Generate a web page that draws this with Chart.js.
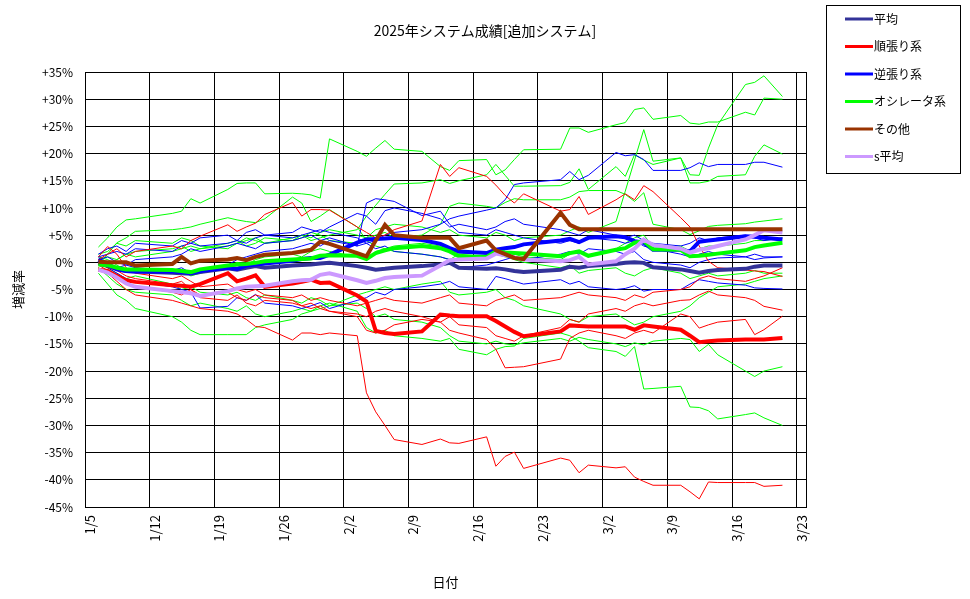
<!DOCTYPE html>
<html lang="ja">
<head>
<meta charset="utf-8">
<title>2025年システム成績[追加システム]</title>
<script src="https://cdn.jsdelivr.net/npm/chart.js@4.4.1/dist/chart.umd.min.js"></script>
<style>
  html, body { margin: 0; padding: 0; background: #fff; }
  #wrap { width: 970px; height: 599px; }
</style>
</head>
<body>
<div id="wrap"><canvas id="chart" width="970" height="599"></canvas></div>
<script>
// trading days (2025)
const dates = [
  '1/6','1/7','1/8','1/9','1/10',
  '1/14','1/15','1/16','1/17',
  '1/20','1/21','1/22','1/23','1/24',
  '1/27','1/28','1/29','1/30','1/31',
  '2/3','2/4','2/5','2/6','2/7',
  '2/10','2/12','2/13','2/14',
  '2/17','2/18','2/19','2/20','2/21',
  '2/25','2/26','2/27','2/28',
  '3/3','3/4','3/5','3/6','3/7',
  '3/10','3/11','3/12','3/13','3/14',
  '3/17','3/18','3/19','3/21'
];

// summary series (%)
const heikin = [
  -0.1,-0.6,-1.2,-1.6,-1.7, -1.9,-2.0,-2.1,-1.8, -1.1,-1.35,-1.0,-0.7,-1.0,
  -0.6,-0.5,-0.4,-0.2,-0.1, -0.7,-1.0,-1.35,-1.2,-1.0, -0.7,-0.4,-0.1,-1.0,
  -1.2,-1.1,-1.3,-1.6,-1.8, -1.35,-0.8,-1.0,-0.7, -0.3,-0.1,0.0,-0.1,-0.9,
  -1.3,-1.6,-1.9,-1.6,-1.4, -1.2,-0.8,-0.6,-0.6
];
const junbari = [
  -1.35,-1.6,-2.5,-3.3,-3.6, -4.2,-4.3,-4.5,-4.0, -2.0,-3.5,-3.0,-2.4,-4.5,
  -3.9,-3.6,-3.2,-3.8,-3.7, -6.1,-7.2,-12.6,-13.0,-13.2, -12.7,-9.6,-9.8,-9.9,
  -9.9,-10.8,-11.8,-12.8,-13.6, -12.7,-11.6,-11.7,-11.8, -11.8,-11.8,-12.4,-11.6,-11.8,
  -12.4,-13.5,-14.7,-14.5,-14.4, -14.2,-14.2,-14.2,-13.9
];
const gyakubari = [
  0.4,-0.4,-1.3,-1.6,-1.7, -1.7,-1.8,-2.0,-1.6, -1.0,-1.2,-0.6,-0.4,-0.2,
  0.3,0.6,0.8,0.8,1.4, 3.6,4.2,4.3,4.4,4.5, 4.1,3.4,2.6,2.0,
  1.7,2.3,2.6,2.8,3.3, 4.0,4.3,3.7,4.5, 4.8,4.6,3.9,3.6,2.3,
  2.3,2.0,3.8,4.0,4.2, 4.8,4.7,4.5,4.2
];
const oscillator = [
  -0.4,-0.5,-1.0,-1.3,-1.3, -1.4,-1.6,-1.8,-1.3, -0.6,-0.4,-0.3,-0.1,0.2,
  0.5,0.6,0.7,1.2,1.3, 1.2,0.6,1.7,2.2,2.6, 3.0,2.6,2.0,1.1,
  1.0,2.0,1.8,1.7,1.6, 1.1,1.7,2.0,1.2, 2.3,2.6,3.6,3.9,2.4,
  2.3,1.1,1.2,1.4,1.6, 2.2,2.8,3.1,3.6
];
const sonota = [
  0.1,0.0,0.0,0.0,-0.6, -0.3,1.0,-0.2,0.3, 0.5,0.8,0.4,1.0,1.4,
  1.7,2.0,2.3,3.8,3.4, 1.7,1.1,4.0,6.9,5.0, 4.5,4.5,4.5,2.6,
  4.0,2.2,1.5,0.8,0.6, 9.1,6.9,6.1,6.1, 6.1,6.1,6.1,6.1,6.1,
  6.1,6.1,6.1,6.1,6.1, 6.1,6.1,6.1,6.1
];
const sHeikin = [
  -1.35,-1.9,-2.8,-3.9,-4.5, -5.3,-5.5,-5.7,-6.2, -5.3,-4.8,-4.5,-4.4,-4.3,
  -3.5,-3.3,-3.2,-2.3,-2.0, -3.3,-3.8,-3.4,-2.9,-2.7, -2.45,-0.6,0.4,0.5,
  0.7,1.6,1.3,0.9,0.5, 0.2,0.4,1.0,-0.4, 0.2,1.5,2.5,4.2,3.2,
  2.5,1.8,2.3,2.6,3.0, 4.2,5.0,5.9,5.5
];

// individual systems: 順張り (red)
const jun1 = [
  -1.0,-2.0,-3.5,-5.0,-6.0, -7.0,-7.5,-8.0,-8.5, -9.0,-9.5,-10.5,-11.8,-12.0,
  -14.3,-13.0,-13.0,-13.3,-13.0, -13.5,-24.0,-27.5,-30.0,-32.6, -33.5,-32.5,-33.2,-33.3,
  -32.1,-37.5,-35.7,-34.9,-37.9, -36.0,-36.4,-38.7,-37.3, -37.8,-37.6,-39.5,-40.3,-41.0,
  -41.0,-42.2,-43.5,-40.4,-40.5, -40.5,-40.5,-41.2,-41.0
];
const jun2 = [
  0.5,1.5,2.5,1.0,2.0, 3.0,2.5,4.0,4.8, 6.9,5.7,6.5,7.2,8.8,
  11.0,8.5,9.7,9.7,9.6, 6.5,5.5,4.5,5.0,6.0, 7.6,18.0,15.8,17.4,
  15.8,14.2,12.3,10.9,12.6, 9.4,9.7,12.1,8.8, 11.5,12.6,11.5,14.1,13.0,
  8.2,6.5,3.0,0.2,-1.0, -1.4,-1.6,-1.7,-2.6
];
const jun3 = [
  -0.5,-1.5,-3.0,-4.0,-4.5, -5.5,-6.0,-5.0,-6.5, -7.0,-6.0,-7.5,-8.0,-7.0,
  -7.5,-8.0,-8.5,-8.0,-9.0, -10.0,-12.5,-13.0,-12.5,-11.5, -10.5,-11.0,-10.0,-11.5,
  -12.0,-13.5,-14.0,-14.5,-13.5, -12.0,-10.5,-11.0,-9.5, -8.5,-9.0,-8.0,-7.5,-8.0,
  -7.0,-6.9,-6.0,-5.3,-6.0, -6.5,-7.0,-8.1,-8.8
];
const jun4 = [
  0.0,-1.0,-1.5,-2.5,-3.0, -4.0,-3.5,-5.0,-6.0, -5.5,-6.5,-7.0,-6.0,-6.5,
  -7.0,-8.0,-7.5,-8.5,-9.0, -9.5,-10.0,-9.0,-8.5,-9.0, -10.0,-11.0,-12.5,-13.0,
  -14.2,-16.0,-19.4,-19.3,-19.2, -17.8,-14.0,-13.0,-12.5, -13.5,-14.0,-13.0,-12.5,-13.0,
  -9.5,-10.0,-12.1,-11.5,-11.0, -10.5,-13.3,-12.4,-9.9
];
const jun5 = [
  1.0,2.9,1.5,-1.0,-2.0, -3.0,-2.5,-3.5,-4.5, -4.0,-5.0,-5.5,-5.0,-6.0,
  -6.5,-6.0,-7.0,-6.5,-7.0, -8.0,-7.5,-7.0,-6.5,-7.0, -7.5,-6.5,-6.0,-7.5,
  -8.0,-7.0,-6.5,-6.0,-7.0, -6.5,-6.0,-5.5,-6.0, -6.5,-7.0,-6.0,-6.5,-5.5,
  -5.0,-4.5,-3.0,-2.5,-3.0, -3.5,-3.0,-2.5,-1.0
];

// 逆張り (blue)
const gyaku1 = [
  1.0,1.5,2.0,1.5,2.5, 2.0,3.0,3.5,3.0, 3.5,4.0,3.5,4.5,5.0,
  4.5,5.0,5.5,6.0,5.5, 4.5,3.5,4.0,5.0,5.5, 6.0,7.0,8.0,8.5,
  9.6,10.0,11.5,14.3,14.6, 15.2,16.7,15.2,16.0, 20.2,19.6,19.8,18.9,16.9,
  16.9,17.4,18.3,17.6,18.0, 18.0,18.4,18.4,17.5
];
const gyaku2 = [
  0.5,1.0,0.0,-0.5,0.5, 1.0,1.5,2.5,2.0, 3.0,3.5,3.0,2.5,3.5,
  4.0,4.5,5.0,4.0,4.5, 3.0,10.9,11.7,11.5,11.2, 8.6,9.4,7.0,5.5,
  5.0,6.0,5.5,5.0,4.5, 3.5,4.0,3.5,4.5, 4.0,3.5,4.0,3.0,2.5,
  1.5,1.0,1.5,2.0,1.5, 1.0,1.5,1.0,1.0
];
const gyaku3 = [
  0.0,-1.0,-2.0,-3.0,-3.5, -4.5,-5.0,-5.5,-8.4, -8.1,-6.5,-7.0,-5.9,-7.5,
  -8.0,-8.5,-8.0,-7.4,-8.5, -7.0,-6.5,-5.5,-6.0,-5.0, -4.5,-4.0,-3.5,-4.5,
  -5.0,-2.6,-3.0,-3.5,-4.0, -3.2,-4.0,-3.5,-4.5, -5.0,-4.8,-4.3,-5.3,-5.0,
  -5.0,-4.0,-3.2,-3.5,-3.8, -4.2,-4.7,-4.8,-4.9
];
const gyaku4 = [
  0.8,0.0,-1.0,-0.5,-1.0, -1.5,-1.0,-2.0,-1.5, -0.5,0.5,1.0,1.5,2.0,
  2.5,3.0,3.5,3.0,4.0, 3.0,3.5,2.5,3.0,2.0, 1.5,1.0,0.5,-1.0,
  -0.5,0.0,0.5,1.0,0.5, 1.5,2.0,1.5,2.5, 2.0,1.5,2.0,0.5,0.0,
  -0.5,-1.0,0.0,0.5,0.8, 1.0,0.5,0.8,1.0
];
const gyaku5 = [
  1.5,2.5,3.0,2.0,3.5, 3.0,4.0,3.5,4.5, 5.0,4.0,5.5,6.0,5.0,
  5.5,6.5,6.0,5.5,6.5, 9.0,8.5,7.0,9.5,10.0, 9.0,8.0,6.5,7.0,
  6.0,6.5,7.5,8.0,7.0, 6.0,5.5,5.0,6.0, 5.0,4.5,5.0,4.0,3.5,
  3.0,3.5,4.5,4.0,4.5, 5.0,4.5,4.0,4.5
];

// オシレータ (green)
const osc1 = [
  2.8,4.5,6.5,7.8,8.0, 9.0,9.4,11.7,10.9, 13.4,14.5,14.6,14.6,12.6,
  12.7,12.6,12.4,11.8,22.7, 20.4,19.5,21.0,22.4,20.8, 20.4,17.6,16.9,18.7,
  18.9,16.1,17.0,18.9,20.7, 20.8,24.7,24.7,23.9, 25.3,25.7,28.1,28.4,26.3,
  27.0,25.6,25.4,25.8,25.8, 27.6,27.1,30.2,30.0
];
const osc2 = [
  0.5,1.0,0.5,1.5,2.0, 2.5,3.0,2.0,2.5, 3.5,4.0,3.0,3.5,4.5,
  4.0,5.0,4.5,5.5,6.0, 5.0,4.5,6.0,6.5,7.0, 6.5,5.5,6.0,5.0,
  4.5,5.5,5.0,4.0,4.5, 5.0,5.8,6.5,5.5, 7.5,13.1,18.8,24.4,18.6,
  19.2,16.1,16.0,21.0,25.3, 32.7,33.1,34.3,30.5
];
const osc3 = [
  0.0,-0.5,0.5,1.5,1.0, 2.0,2.5,3.0,2.5, 3.0,3.5,4.5,4.0,3.5,
  4.5,5.0,4.0,4.5,5.0, 6.0,8.5,10.5,12.5,14.4, 14.6,15.2,14.5,15.0,
  16.1,18.0,16.0,14.0,14.0, 14.1,14.7,17.2,13.4, 17.6,15.8,19.8,18.8,18.0,
  19.2,14.6,14.6,14.9,15.8, 16.1,19.5,21.6,19.9
];
const osc4 = [
  1.5,2.0,3.5,3.0,4.0, 3.5,4.5,4.0,3.0, 2.5,3.5,4.0,4.5,3.5,
  4.0,4.5,5.5,5.0,4.0, 3.5,4.5,5.0,5.5,4.5, 5.0,7.0,10.3,10.9,
  10.3,10.0,11.0,11.7,11.5, 11.5,12.0,13.0,13.2, 13.2,12.5,11.2,12.8,7.0,
  6.0,5.1,5.8,6.6,6.8, 7.1,7.4,7.6,8.0
];
const osc5 = [
  -1.0,-2.5,-4.0,-5.0,-5.5, -6.0,-7.0,-8.0,-7.5, -8.5,-9.0,-8.0,-9.5,-10.0,
  -9.0,-8.5,-9.0,-8.0,-7.5, -9.0,-12.0,-13.0,-12.5,-13.5, -14.0,-14.5,-14.0,-16.0,
  -17.0,-16.0,-15.5,-15.4,-14.0, -13.0,-13.5,-14.5,-15.7, -16.4,-17.3,-15.5,-23.3,-23.2,
  -22.8,-26.6,-26.7,-27.3,-28.8, -28.0,-27.7,-28.6,-30.0
];
const osc6 = [
  -0.5,-1.0,-2.0,-3.0,-2.5, -4.0,-5.0,-4.5,-5.5, -6.0,-5.5,-6.5,-7.0,-6.0,
  -7.0,-7.5,-6.5,-7.0,-8.0, -7.5,-8.5,-10.0,-9.5,-10.5, -11.0,-12.0,-13.5,-14.5,
  -15.0,-14.5,-15.0,-15.2,-14.8, -14.0,-14.5,-13.8,-14.2, -15.0,-15.5,-14.8,-15.2,-14.5,
  -14.0,-14.2,-16.4,-15.1,-17.0, -20.0,-21.0,-20.0,-19.2
];
const osc7 = [
  -0.5,1.5,3.6,4.5,5.7, 6.0,6.2,6.5,7.0, 8.2,7.8,7.5,7.3,8.0,
  12.0,10.9,7.5,8.5,9.7, 6.5,4.0,3.0,2.5,2.0, 1.5,1.0,0.5,1.5,
  2.0,1.5,1.0,0.5,0.0, -1.0,-0.5,-2.0,-1.5, -1.0,-2.0,-2.5,-1.5,-1.0,
  -2.0,-3.0,-2.5,-2.0,-2.5, -2.0,-1.5,-2.0,-2.0
];
const osc8 = [
  1.0,0.5,-0.5,-1.5,-1.0, -2.0,-1.5,-2.5,-2.0, -1.0,0.0,-0.5,0.5,1.0,
  1.5,1.0,2.0,2.5,2.0, 1.0,0.5,2.0,2.5,3.0, 3.5,3.0,2.5,1.5,
  1.0,2.5,2.0,1.5,1.0, 0.5,1.5,2.0,1.0, 2.5,3.5,4.5,5.0,3.0,
  3.0,2.0,2.5,3.0,3.0, 3.5,4.0,4.0,4.5
];
const osc9 = [
  -2.0,-4.0,-6.0,-7.0,-8.5, -10.0,-11.0,-12.5,-13.3, -13.3,-13.3,-13.3,-12.0,-11.5,
  -10.5,-9.5,-9.0,-8.5,-8.0, -6.0,-5.5,-5.0,-4.5,-5.0, -4.0,-3.5,-5.5,-6.0,
  -5.5,-5.0,-6.5,-7.0,-8.0, -9.5,-10.5,-11.0,-10.0, -9.5,-10.5,-11.5,-11.0,-10.0,
  -9.0,-8.0,-6.5,-5.5,-4.5, -4.0,-3.5,-3.0,-2.5
];

// axis: days counted from 1/5, one grid line per week
const axisFrom = '1/5', axisTo = '3/24';
const yMin = -45, yMax = 35, yStep = 5;
const SAMPLE_TIME = 0.45; // values are taken late morning

const RED = '#ff0000', BLUE = '#0000ff', GREEN = '#00ff00';

function dayOf(md) {
  const [m, d] = md.split('/').map(Number);
  return (Date.UTC(2025, m - 1, d) - Date.UTC(2025, 0, 5)) / 86400000;
}
function dayLabel(n) {
  const dt = new Date(Date.UTC(2025, 0, 5 + n));
  return (dt.getUTCMonth() + 1) + '/' + dt.getUTCDate();
}
function points(values) {
  return values.map((v, i) => ({ x: dayOf(dates[i]) + SAMPLE_TIME, y: v }));
}

function thin(values, color) {
  return { data: points(values), borderColor: color, borderWidth: 1, order: 10, thin: true };
}
function thick(label, values, color, order) {
  return { label: label, data: points(values), borderColor: color, borderWidth: 4, order: order };
}

const datasets = [
  thin(jun1, RED), thin(jun2, RED), thin(jun3, RED), thin(jun4, RED), thin(jun5, RED),
  thin(gyaku1, BLUE), thin(gyaku2, BLUE), thin(gyaku3, BLUE), thin(gyaku4, BLUE), thin(gyaku5, BLUE),
  thin(osc1, GREEN), thin(osc2, GREEN), thin(osc3, GREEN), thin(osc4, GREEN), thin(osc5, GREEN),
  thin(osc6, GREEN), thin(osc7, GREEN), thin(osc8, GREEN), thin(osc9, GREEN),
  thick('平均', heikin, '#333399', 6),
  thick('順張り系', junbari, RED, 5),
  thick('逆張り系', gyakubari, BLUE, 4),
  thick('オシレータ系', oscillator, GREEN, 3),
  thick('その他', sonota, '#993300', 1),
  thick('s平均', sHeikin, '#cc99ff', 2)
];

Chart.defaults.font.family = '"Noto Sans CJK JP", "Noto Sans", sans-serif';
Chart.defaults.color = '#000';

// plot frame (right side is not drawn by the axes)
const frame = {
  id: 'frame',
  beforeDatasetsDraw(chart) {
    const { ctx, chartArea: a } = chart;
    ctx.save();
    ctx.strokeStyle = '#000';
    ctx.lineWidth = 1;
    ctx.strokeRect(Math.round(a.left) + 0.5, Math.round(a.top) + 0.5,
      Math.round(a.right - a.left), Math.round(a.bottom - a.top));
    ctx.restore();
  }
};

// boxed legend on the right, summary series only
const legendBox = {
  id: 'legendBox',
  afterDraw(chart) {
    const ctx = chart.ctx;
    const items = chart.data.datasets.filter(d => !d.thin);
    const x0 = 826, y0 = 5, w = 134, h = 168;
    ctx.save();
    ctx.fillStyle = '#fff';
    ctx.fillRect(x0, y0, w, h);
    ctx.strokeStyle = '#000';
    ctx.lineWidth = 1;
    ctx.strokeRect(x0 + 0.5, y0 + 0.5, w, h);
    ctx.font = '12px "Noto Sans CJK JP", sans-serif';
    ctx.textBaseline = 'middle';
    ctx.fillStyle = '#000';
    items.forEach((d, i) => {
      const y = y0 + 14 + i * 27.5;
      ctx.strokeStyle = d.borderColor;
      ctx.lineWidth = 3;
      ctx.beginPath();
      ctx.moveTo(845, y);
      ctx.lineTo(873, y);
      ctx.stroke();
      ctx.fillText(d.label, 874, y);
    });
    ctx.restore();
  }
};

new Chart(document.getElementById('chart'), {
  type: 'line',
  data: { datasets: datasets },
  options: {
    responsive: false,
    animation: false,
    events: [],
    elements: { point: { radius: 0 }, line: { tension: 0 } },
    layout: { padding: 0 },
    plugins: {
      legend: { display: false },
      tooltip: { enabled: false },
      title: {
        display: true,
        text: '2025年システム成績[追加システム]',
        color: '#000',
        font: { size: 14, weight: 'normal' },
        padding: { top: 22, bottom: 33.2 }
      }
    },
    scales: {
      x: {
        type: 'linear',
        min: dayOf(axisFrom),
        max: dayOf(axisTo),
        afterBuildTicks: s => {
          const t = [];
          for (let v = s.min; v <= s.max; v += 7) t.push({ value: v });
          s.ticks = t;
        },
        ticks: {
          autoSkip: false,
          minRotation: 90,
          maxRotation: 90,
          padding: 8,
          labelOffset: 5,
          font: { size: 13 },
          callback: v => dayLabel(v)
        },
        grid: { color: '#000', drawTicks: false },
        border: { color: '#000' },
        title: { display: true, text: '日付', font: { size: 13 }, padding: { top: 0, bottom: 9 } },
        afterFit: s => { s.height = 92; }
      },
      y: {
        min: yMin,
        max: yMax,
        ticks: {
          stepSize: yStep,
          padding: 12,
          font: { size: 12 },
          callback: v => (v > 0 ? '+' : '') + v + '%'
        },
        grid: { color: '#000', drawTicks: false },
        border: { color: '#000' },
        title: { display: true, text: '増減率', font: { size: 13 }, padding: { top: 10, bottom: 0 } },
        afterFit: s => { s.width = 85; }
      },
      legendSpace: {
        position: 'right',
        display: true,
        ticks: { display: false },
        grid: { display: false },
        border: { display: false },
        afterFit: s => { s.width = 164; }
      }
    }
  },
  plugins: [frame, legendBox]
});
</script>
</body>
</html>
